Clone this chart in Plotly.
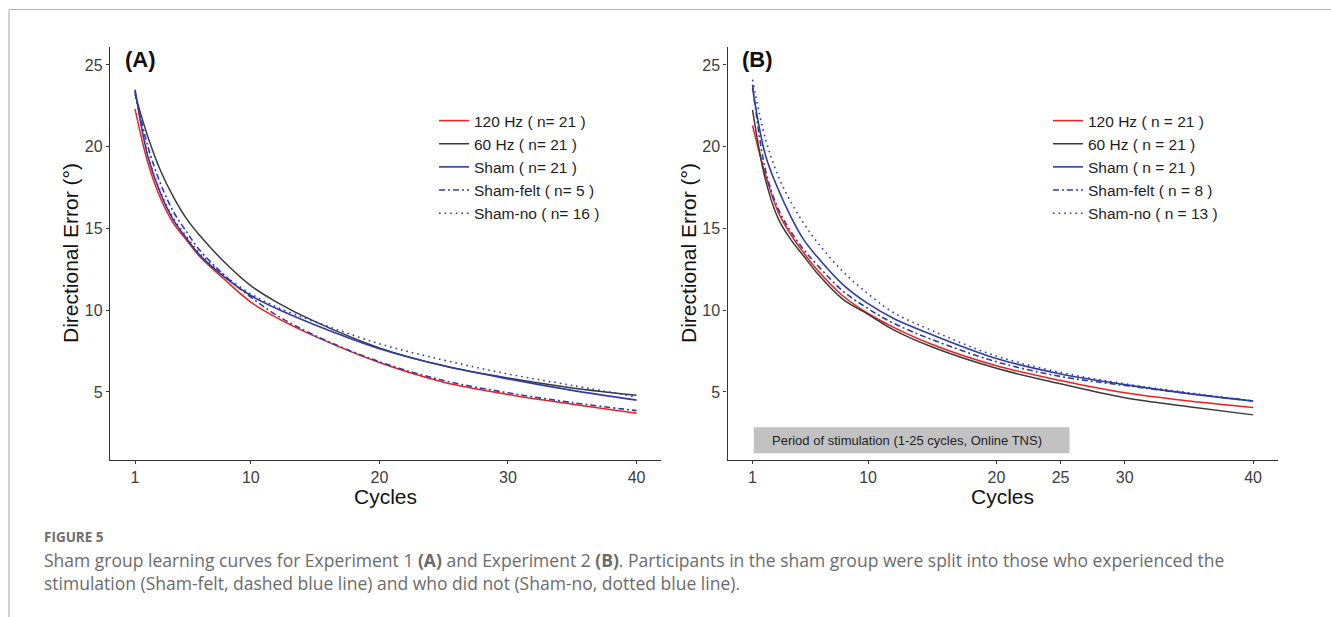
import plotly.graph_objects as go

# ---------------- data ----------------
cycles = [1, 2, 3, 4, 5, 6, 8, 10, 12, 15, 20, 25, 30, 35, 40]

# Experiment 1 (A)
a_120hz = [22.3, 19.0, 16.8, 15.3, 14.3, 13.3, 11.85, 10.5, 9.55, 8.4, 6.8, 5.6, 4.85, 4.25, 3.7]
a_60hz = [23.2, 20.6, 18.5, 16.9, 15.6, 14.6, 12.9, 11.5, 10.5, 9.3, 7.7, 6.6, 5.85, 5.25, 4.8]
a_sham = [23.5, 19.4, 17.1, 15.5, 14.4, 13.4, 12.0, 10.9, 10.1, 9.1, 7.65, 6.6, 5.8, 5.1, 4.5]
a_felt = [23.3, 20.0, 17.7, 16.0, 14.8, 13.7, 12.1, 10.8, 9.7, 8.45, 6.85, 5.7, 4.95, 4.35, 3.86]
a_no = [23.4, 19.5, 17.2, 15.6, 14.5, 13.5, 12.1, 11.0, 10.2, 9.3, 7.95, 6.95, 6.1, 5.4, 4.7]

# Experiment 2 (B)
b_120hz = [21.3, 18.3, 16.0, 14.6, 13.5, 12.5, 10.9, 9.8, 8.95, 7.9, 6.6, 5.7, 4.95, 4.45, 4.05]
b_60hz = [22.25, 18.0, 15.6, 14.3, 13.3, 12.3, 10.7, 9.75, 8.8, 7.75, 6.45, 5.5, 4.65, 4.1, 3.6]
b_sham = [23.6, 19.5, 17.4, 15.7, 14.3, 13.3, 11.6, 10.4, 9.5, 8.5, 7.05, 6.1, 5.45, 4.9, 4.45]
b_felt = [23.8, 18.6, 16.2, 14.8, 13.7, 12.8, 11.2, 10.1, 9.2, 8.2, 6.85, 5.95, 5.4, 4.9, 4.45]
b_no = [24.1, 20.5, 18.2, 16.6, 15.3, 14.2, 12.4, 11.0, 9.85, 8.75, 7.2, 6.2, 5.5, 4.95, 4.45]

names_a = ["120 Hz ( n= 21 )", "60 Hz ( n= 21 )", "Sham ( n= 21 )", "Sham-felt ( n= 5 )", "Sham-no ( n= 16 )"]
names_b = ["120 Hz ( n = 21 )", "60 Hz ( n = 21 )", "Sham ( n = 21 )", "Sham-felt ( n = 8 )", "Sham-no ( n = 13 )"]

x_ticks_a = [1, 10, 20, 30, 40]
x_ticks_b = [1, 10, 20, 25, 30, 40]
y_ticks = [5, 10, 15, 20, 25]

# ---------------- styling ----------------
W, H = 1331, 617
RED = "#f21d1d"
BLACK = "#3a3a3a"
BLUE = "#2e3ca8"
styles = [
    dict(color=RED, width=1.5, dash="solid"),
    dict(color=BLACK, width=1.5, dash="solid"),
    dict(color=BLUE, width=1.6, dash="solid"),
    dict(color=BLUE, width=1.6, dash="6px,3px,2px,3px"),
    dict(color=BLUE, width=1.6, dash="1.6px,4px"),
]
FONT = "Liberation Sans"
CAP = "Open Sans"


def px_x(p):
    return p / W


def px_y(p):
    return 1 - p / H


fig = go.Figure()

series_a = [a_120hz, a_60hz, a_sham, a_felt, a_no]
series_b = [b_120hz, b_60hz, b_sham, b_felt, b_no]

for vals, name, st in zip(series_a, names_a, styles):
    fig.add_trace(go.Scatter(x=cycles, y=vals, name=name, mode="lines",
                             line=dict(shape="spline", smoothing=1.0, **st),
                             xaxis="x", yaxis="y", legend="legend"))
for vals, name, st in zip(series_b, names_b, styles):
    fig.add_trace(go.Scatter(x=cycles, y=vals, name=name, mode="lines",
                             line=dict(shape="spline", smoothing=1.0, **st),
                             xaxis="x2", yaxis="y2", legend="legend2"))

axis_common = dict(
    showline=True, linecolor="#333333", linewidth=1.3,
    ticks="outside", ticklen=3, tickwidth=1.1, tickcolor="#333333",
    tickfont=dict(family=FONT, size=16, color="#3d3d3d"),
    showgrid=False, zeroline=False,
)
y_range = [0.84, 26.1]
x_range = [-0.95, 41.9]

legend_common = dict(xanchor="left", yanchor="top", bgcolor="rgba(0,0,0,0)",
                     font=dict(family=FONT, size=15.5, color="#1e1e1e"),
                     tracegroupgap=0, itemwidth=30)

fig.update_layout(
    width=W, height=H, autosize=False,
    margin=dict(l=0, r=0, t=0, b=0),
    paper_bgcolor="white", plot_bgcolor="white",
    font=dict(family=FONT, color="#222222"),
    xaxis=dict(domain=[px_x(110), px_x(661)], range=x_range, tickvals=x_ticks_a,
               anchor="y", **axis_common),
    yaxis=dict(domain=[px_y(460), px_y(47)], range=y_range, tickvals=y_ticks,
               anchor="x", **axis_common),
    xaxis2=dict(domain=[px_x(727.5), px_x(1277.5)], range=x_range, tickvals=x_ticks_b,
                anchor="y2", **axis_common),
    yaxis2=dict(domain=[px_y(460), px_y(47)], range=y_range, tickvals=y_ticks,
                anchor="x2", **axis_common),
    legend=dict(x=px_x(434), y=px_y(104), **legend_common),
    legend2=dict(x=px_x(1048), y=px_y(104), **legend_common),
    showlegend=True,
)

ann = []
# axis titles
for cx in (70, 688):
    ann.append(dict(text="Directional Error (°)", x=px_x(cx), y=px_y(253), xref="paper", yref="paper",
                    textangle=-90, showarrow=False, xanchor="center", yanchor="middle",
                    font=dict(family=FONT, size=21, color="#111111")))
for cx in (385.5, 1002.5):
    ann.append(dict(text="Cycles", x=px_x(cx), y=px_y(496), xref="paper", yref="paper",
                    showarrow=False, xanchor="center", yanchor="middle",
                    font=dict(family=FONT, size=21, color="#111111")))
# panel tags
ann.append(dict(text="<b>(A)</b>", x=px_x(123), y=px_y(60), xref="paper", yref="paper",
                showarrow=False, xanchor="left", yanchor="middle",
                font=dict(family=FONT, size=22, color="#111111")))
ann.append(dict(text="<b>(B)</b>", x=px_x(740), y=px_y(60), xref="paper", yref="paper",
                showarrow=False, xanchor="left", yanchor="middle",
                font=dict(family=FONT, size=22, color="#111111")))
# stimulation period label
ann.append(dict(text="Period of stimulation (1-25 cycles, Online TNS)", x=13.0, y=2.05,
                xref="x2", yref="y2", showarrow=False, xanchor="center", yanchor="middle",
                font=dict(family=FONT, size=13, color="#222222")))
# caption
ann.append(dict(text="<b>FIGURE 5</b>", x=px_x(42), y=px_y(536.5), xref="paper", yref="paper",
                showarrow=False, xanchor="left", yanchor="middle",
                font=dict(family=CAP, size=13.5, color="#6e6e6e")))
ann.append(dict(text="Sham group learning curves for Experiment 1 <b>(A)</b> and Experiment 2 <b>(B)</b>. "
                     "Participants in the sham group were split into those who experienced the<br>"
                     "stimulation (Sham-felt, dashed blue line) and who did not (Sham-no, dotted blue line).",
                x=px_x(42), y=px_y(571), xref="paper", yref="paper", align="left",
                showarrow=False, xanchor="left", yanchor="middle",
                font=dict(family=CAP, size=17.5, color="#6b6b6b")))
fig.update_layout(annotations=ann)

shapes = [
    # stimulation period box
    dict(type="rect", xref="x2", yref="y2", x0=1.1, x1=25.7, y0=1.25, y1=2.85,
         fillcolor="#c2c2c2", line=dict(width=0), layer="below"),
    # page frame lines
    dict(type="line", xref="paper", yref="paper", x0=px_x(9), x1=1, y0=px_y(9.5), y1=px_y(9.5),
         line=dict(color="#b5b5b5", width=1.2)),
    dict(type="line", xref="paper", yref="paper", x0=px_x(9), x1=px_x(9), y0=px_y(9.5), y1=0,
         line=dict(color="#b5b5b5", width=1.2)),
]
fig.update_layout(shapes=shapes)

fig.write_html("out.html", config={"displayModeBar": False},
               post_script="document.body.style.margin='0';document.body.style.overflow='hidden';")
